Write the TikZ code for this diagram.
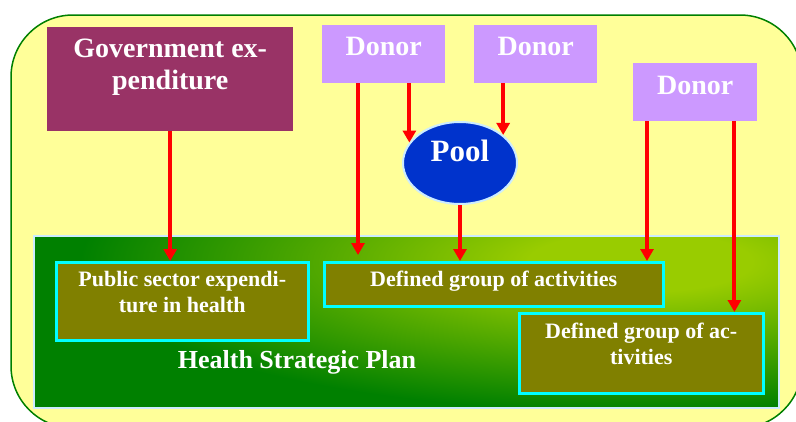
\documentclass[tikz,border=0pt]{standalone}
\usepackage{fontspec}
\setmainfont{Liberation Serif}
\usetikzlibrary{shapes.geometric,arrows.meta}
\definecolor{bgyellow}{HTML}{FFFF99}
\definecolor{framec}{HTML}{008000}
\definecolor{govc}{HTML}{993366}
\definecolor{donorc}{HTML}{CC99FF}
\definecolor{poolc}{HTML}{0033CC}
\definecolor{paleblue}{HTML}{CCECFF}
\definecolor{olivec}{HTML}{808000}
\definecolor{cyanc}{HTML}{00FFFF}
\definecolor{lightg}{HTML}{99CC00}
\definecolor{darkg}{HTML}{008000}
\pgfdeclareradialshading{panelglow}{\pgfpoint{0bp}{0bp}}{color(0bp)=(lightg); color(5bp)=(lightg); color(25bp)=(darkg); color(50bp)=(darkg)}
\begin{document}
\begin{tikzpicture}[x=1pt,y=-1pt,
  box/.style={rectangle, inner sep=0pt, anchor=north west},
  govbox/.style={box, fill=govc, minimum width=246pt, minimum height=104pt},
  donorbox/.style={box, fill=donorc, minimum width=123pt, minimum height=58pt},
  actbox/.style={box, fill=olivec, draw=cyanc, line width=2.5pt},
  btext/.style={text=white, align=center, inner sep=0pt},
  bigfont/.style={font=\bfseries\fontsize{28}{32}\selectfont},
  midfont/.style={font=\bfseries\fontsize{22}{26}\selectfont},
  flow/.style={draw=red, line width=4pt, -{Triangle[width=13pt,length=12pt]}},
]
\useasboundingbox (0,0) rectangle (796,421);
\clip (0,0) rectangle (796,421);
\fill[white] (0,0) rectangle (796,421);
% outer frame
\draw[draw=framec, line width=1.5pt, fill=bgyellow, rounded corners=62pt] (11,15) rectangle (802,428);
% green panel
\begin{scope}
  \clip (33,235) rectangle (778,407);
  \fill[darkg] (33,235) rectangle (778,407);
  \shade[shading=panelglow] (640,262) ellipse [x radius=560, y radius=150];
\end{scope}
\node[box, draw=paleblue, line width=2pt, minimum width=745pt, minimum height=172pt] (panel) at (33,235) {};
% boxes
\node[govbox, label={[btext, bigfont, anchor=north, yshift=-12pt]north:{Government ex-\\penditure}}] (gov) at (47,27) {};
\node[donorbox, label={[btext, bigfont, anchor=north, yshift=-11.5pt]north:Donor}] (d1) at (322,25) {};
\node[donorbox, label={[btext, bigfont, anchor=north, yshift=-11.5pt]north:Donor}] (d2) at (474,25) {};
\node[donorbox, minimum width=124pt, label={[btext, bigfont, anchor=north, yshift=-12.5pt]north:Donor}] (d3) at (633,63) {};
\node[ellipse, fill=poolc, draw=paleblue, line width=2pt, minimum width=114pt, minimum height=82pt, inner sep=0pt,
  label={[btext, font=\bfseries\fontsize{31}{34}\selectfont, anchor=north, yshift=-19pt]north:Pool}] (pool) at (460,163) {};
\node[actbox, minimum width=252pt, minimum height=78pt,
  label={[btext, midfont, anchor=north, yshift=-10pt]north:{Public sector expendi-\\ture in health}}] (pub) at (55,261) {};
\node[actbox, minimum width=339pt, minimum height=44pt,
  label={[btext, midfont, anchor=north, yshift=-10pt]north:{Defined group of activities}}] (def1) at (323,261) {};
\node[actbox, minimum width=244pt, minimum height=80pt,
  label={[btext, midfont, anchor=north, yshift=-11pt]north:{Defined group of ac-\\tivities}}] (def2) at (518,312) {};
\node[btext, font=\bfseries\fontsize{26}{30}\selectfont, anchor=base] (hsp) at (297,368) {Health Strategic Plan};
% arrows
\draw[flow] (gov.south) -- (gov.south |- pub.north);
\draw[flow, shorten >=6pt] ([xshift=36pt]d1.south west) -- ([xshift=36pt]d1.south west |- def1.north);
\draw[flow] (d1.south -| pool.158) -- (pool.158);
\draw[flow] (d2.south -| pool.33) -- (pool.33);
\draw[flow] (pool.south) -- (pool.south |- def1.north);
\draw[flow] ([xshift=14pt]d3.south west) -- ([xshift=14pt]d3.south west |- def1.north);
\draw[flow] ([xshift=-23pt]d3.south east) -- ([xshift=-23pt]d3.south east |- def2.north);
\end{tikzpicture}
\end{document}
